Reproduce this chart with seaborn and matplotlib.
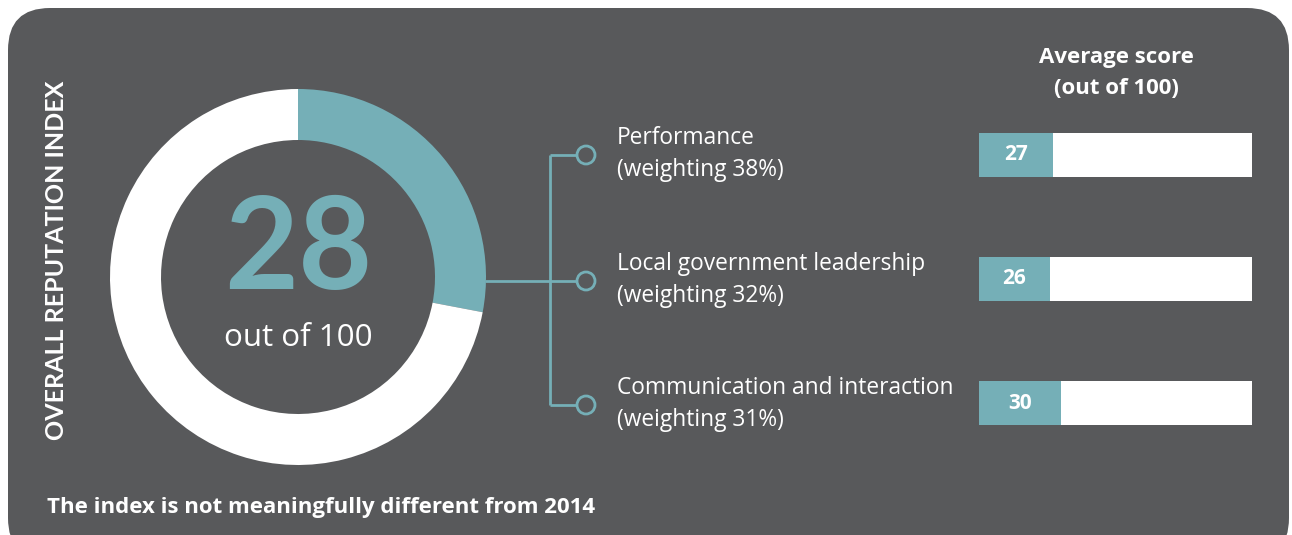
import pandas as pd
import matplotlib.pyplot as plt
from matplotlib.patches import FancyBboxPatch, Circle
import seaborn as sns

# Data
overall_index = 28
overall_max = 100
drivers = ["Performance", "Local government leadership", "Communication and interaction"]
weightings = [38, 32, 31]
scores = [27, 26, 30]

# Colours
BG = "#58595b"
TEAL = "#75afb7"
WHITE = "#ffffff"

sns.set_style("white")
plt.rcParams['font.family'] = ['Open Sans', 'DejaVu Sans']

W, H = 1292, 535
fig = plt.figure(figsize=(W / 100, H / 100), dpi=100)
fig.patch.set_facecolor("white")

# Full-figure canvas in pixel units (y measured from the top via T())
ax = fig.add_axes([0, 0, 1, 1])


def T(py):
    return H - py


# Rounded dark panel
panel = FancyBboxPatch((8, T(560)), 1281, 552, boxstyle="round,pad=0,rounding_size=42",
                       facecolor=BG, edgecolor="none", zorder=0)
ax.add_patch(panel)

# Donut
cx, cy, r_out, ring = 298, T(277), 188, 51
ax.pie([overall_index, overall_max - overall_index], colors=[TEAL, WHITE],
       startangle=90, counterclock=False, center=(cx, cy), radius=r_out,
       wedgeprops=dict(width=ring, edgecolor="none"))
ax.text(cx, T(252), str(overall_index), color=TEAL, fontsize=92, fontweight="bold",
        family=['Lato', 'DejaVu Sans'], ha="center", va="center")
ax.text(cx, T(338), f"out of {overall_max}", color=WHITE, fontsize=22.5,
        ha="center", va="center")

# Vertical title
ax.text(57, T(260), "OVERALL REPUTATION INDEX", color=WHITE, fontsize=18,
        fontweight="bold", family=['Lato', 'DejaVu Sans'], rotation=90,
        ha="center", va="center")

# Connector
lc = dict(color=TEAL, lw=2, solid_capstyle="butt")
row_y = [155, 281, 405]
ax.plot([485, 550], [T(281), T(281)], **lc)
ax.plot([550, 550], [T(row_y[0]), T(row_y[-1])], **lc)
for ry in row_y:
    ax.plot([550, 577], [T(ry), T(ry)], **lc)
    ax.add_patch(Circle((586, T(ry)), 9, facecolor=BG, edgecolor=TEAL, lw=2, zorder=3))

# Driver labels
for ry, name, wgt in zip(row_y, drivers, weightings):
    ax.text(617, T(ry - 17), name, color=WHITE, fontsize=16.4, ha="left", va="center")
    ax.text(617, T(ry + 15), f"(weighting {wgt}%)", color=WHITE, fontsize=16.4,
            ha="left", va="center")

# Column header and footer
ax.text(1116, T(57), "Average score", color=WHITE, fontsize=16, fontweight="bold",
        ha="center", va="center")
ax.text(1116, T(88), f"(out of {overall_max})", color=WHITE, fontsize=16,
        fontweight="bold", ha="center", va="center")
ax.text(47, T(508), "The index is not meaningfully different from 2014", color=WHITE,
        fontsize=16, fontweight="bold", ha="left", va="center")

ax.set_xlim(0, W)
ax.set_ylim(0, H)
ax.set_aspect("auto")
ax.axis("off")

# Score bars (seaborn)
df = pd.DataFrame({"driver": drivers, "score": scores,
                   "full": [overall_max] * len(drivers)})
bax = fig.add_axes([979 / W, (H - 465.5) / H, 273 / W, 373 / H])
sns.barplot(data=df, x="full", y="driver", color=WHITE, orient="h", width=0.354,
            saturation=1, linewidth=0, ax=bax)
sns.barplot(data=df, x="score", y="driver", color=TEAL, orient="h", width=0.354,
            saturation=1, linewidth=0, ax=bax)
for i, s in enumerate(df["score"]):
    bax.text(s / 2, i, str(s), color=WHITE, fontsize=15, fontweight="bold",
             ha="center", va="center")
bax.set_xlim(0, overall_max)
bax.set_ylim(2.5, -0.5)
bax.axis("off")

fig.savefig("out.png", dpi=100, facecolor=fig.get_facecolor())
